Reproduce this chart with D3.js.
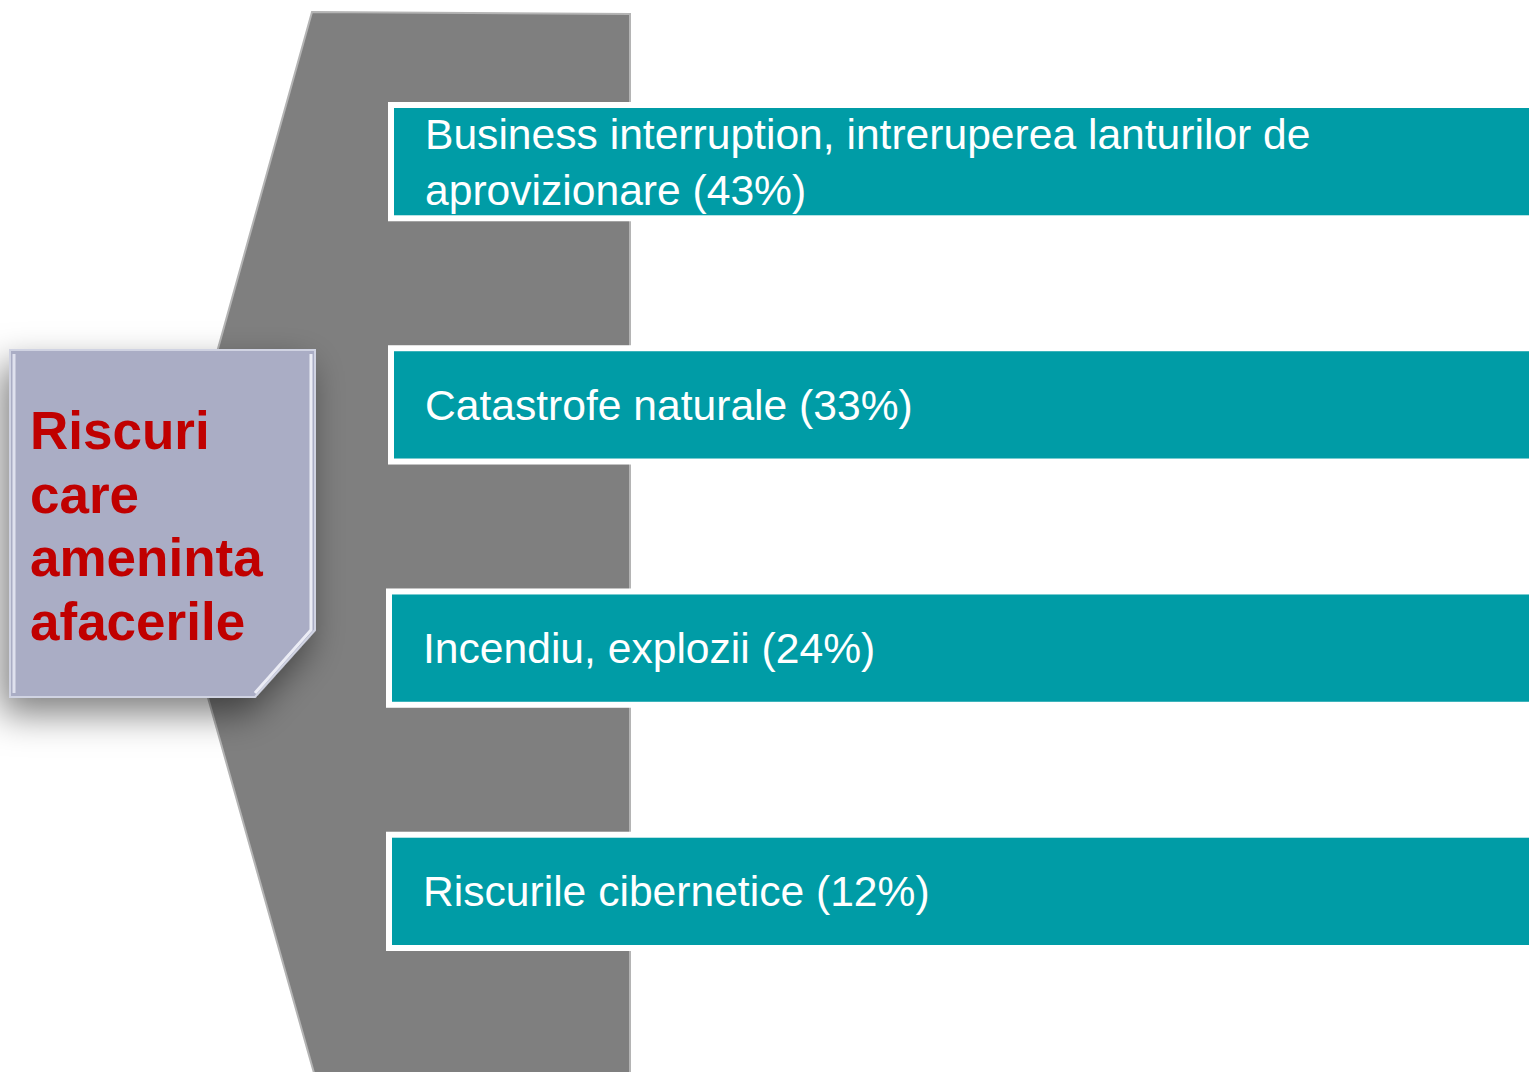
<!DOCTYPE html>
<html><head><meta charset="utf-8">
<script src="https://cdn.jsdelivr.net/npm/d3@7"></script>
<style>html,body{margin:0;padding:0;background:#fff;}svg{display:block;}</style>
</head><body>
<script>
const categories = ["Business interruption, intreruperea lanturilor de aprovizionare", "Catastrofe naturale", "Incendiu, explozii", "Riscurile cibernetice"];
const labelLines = [["Business interruption, intreruperea lanturilor de", "aprovizionare (43%)"], ["Catastrofe naturale (33%)"], ["Incendiu, explozii (24%)"], ["Riscurile cibernetice (12%)"]];
const values = [43, 33, 24, 12];
const titleLines = ["Riscuri", "care", "ameninta", "afacerile"];

const W = 1529, H = 1072;
const svg = d3.select("body").append("svg").attr("width", W).attr("height", H);
const defs = svg.append("defs");
const f = defs.append("filter").attr("id", "sh").attr("x", "-40%").attr("y", "-40%").attr("width", "180%").attr("height", "180%");
f.append("feDropShadow").attr("dx", -8).attr("dy", 16).attr("stdDeviation", 18).attr("flood-color", "#000").attr("flood-opacity", 0.5);

// grey chevron background
const chev = [[312, 12], [630, 14], [630, 1080], [316, 1080], [164, 542]];
svg.append("path").attr("d", d3.line()(chev) + "Z")
  .attr("fill", "#7f7f7f").attr("stroke", "#b4b4b4").attr("stroke-width", 2);

// bars
const y = d3.scaleBand().domain(categories).range([102, 951]).paddingInner(0.5096).paddingOuter(0);
const xStart = [388, 388, 386, 386];
const g = svg.append("g").selectAll("g").data(categories).join("g");
g.append("rect").attr("x", (d, i) => xStart[i]).attr("y", d => y(d))
  .attr("width", W).attr("height", y.bandwidth()).attr("fill", "#ffffff");
g.append("rect").attr("x", (d, i) => xStart[i] + 6).attr("y", d => y(d) + 6)
  .attr("width", W).attr("height", y.bandwidth() - 12).attr("fill", "#009ca6");
g.each(function (d, i) {
  const lines = labelLines[i];
  const cy = y(d) + y.bandwidth() / 2;
  const lh = 56;
  const t = d3.select(this).append("text")
    .attr("font-family", "Liberation Sans, Arial, sans-serif").attr("font-size", 42.6)
    .attr("fill", "#ffffff");
  lines.forEach((ln, j) => {
    t.append("tspan").attr("x", xStart[i] + 37)
      .attr("y", cy + 15 + (j - (lines.length - 1) / 2) * lh).text(ln);
  });
});

// title box
const bx0 = 10, by0 = 350, bx1 = 315, by1 = 697, cut = 60;
const box = [[bx0, by0], [bx1, by0], [bx1, by1 - 67], [bx1 - cut, by1], [bx0, by1]];
svg.append("path").attr("d", d3.line()(box) + "Z")
  .attr("fill", "#aaadc5").attr("stroke", "#d0d3e2").attr("stroke-width", 2).attr("filter", "url(#sh)");
const inset = 4;
const inner = [[bx0 + inset, by0 + inset], [bx1 - inset, by0 + inset], [bx1 - inset, by1 - 67], [bx1 - cut, by1 - inset], [bx0 + inset, by1 - inset]];
svg.append("path").attr("d", d3.line()([inner[1], inner[2], inner[3]]))
  .attr("fill", "none").attr("stroke", "#f2f3fa").attr("stroke-width", 3).attr("opacity", 0.9);
svg.append("path").attr("d", d3.line()([inner[4], inner[0]]))
  .attr("fill", "none").attr("stroke", "#eceef8").attr("stroke-width", 3).attr("opacity", 0.8);

const tt = svg.append("text").attr("font-family", "Liberation Sans, Arial, sans-serif")
  .attr("font-weight", "bold").attr("font-size", 53).attr("fill", "#c00000");
titleLines.forEach((ln, j) => tt.append("tspan").attr("x", 30).attr("y", 449 + j * 63.5).text(ln));
</script>
</body></html>
